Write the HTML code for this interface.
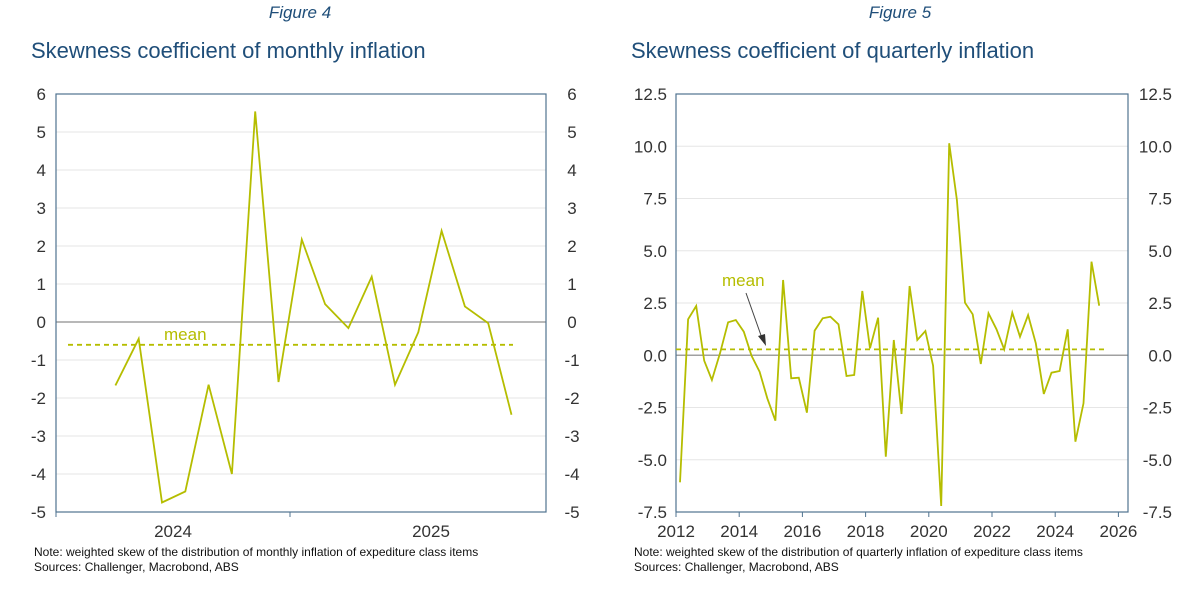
<!DOCTYPE html>
<html><head><meta charset="utf-8"><style>
body{margin:0;background:#fff;width:1200px;height:600px;overflow:hidden}
svg{display:block;font-family:"Liberation Sans",sans-serif}
</style></head><body>
<svg id="s" width="1200" height="600" xmlns="http://www.w3.org/2000/svg">
<text x="300" y="18" text-anchor="middle" font-style="italic" font-size="17" fill="#1f4e79">Figure 4</text>
<text x="900" y="18" text-anchor="middle" font-style="italic" font-size="17" fill="#1f4e79">Figure 5</text>
<text x="31" y="58" font-size="22" fill="#1f4e79">Skewness coefficient of monthly inflation</text>
<text x="631" y="58" font-size="22" fill="#1f4e79">Skewness coefficient of quarterly inflation</text>
<g id="L"></g><g id="R"></g>
<text x="34" y="556" font-size="12" fill="#111">Note: weighted skew of the distribution of monthly inflation of expediture class items</text>
<text x="34" y="571" font-size="12" fill="#111">Sources: Challenger, Macrobond, ABS</text>
<text x="634" y="556" font-size="12" fill="#111">Note: weighted skew of the distribution of quarterly inflation of expediture class items</text>
<text x="634" y="571" font-size="12" fill="#111">Sources: Challenger, Macrobond, ABS</text>
</svg>
<script>
const NS="http://www.w3.org/2000/svg";
function el(p,t,a,txt){const e=document.createElementNS(NS,t);for(const k in a)e.setAttribute(k,a[k]);if(txt!=null)e.textContent=txt;p.appendChild(e);return e;}
const G="#b5bd00",B="#4f7390",T="#333";
// Left
(function(){
const g=document.getElementById("L");const x0=56,x1=546,top=94,bot=512;
const y=v=>top+(6-v)*(bot-top)/11;
for(let v=-5;v<=6;v++){
 if(v!==0&&v!==6&&v!==-5)el(g,"line",{x1:x0,x2:x1,y1:y(v),y2:y(v),stroke:"#e6e6e6","stroke-width":1});
 el(g,"text",{x:x0-10,y:y(v)+6,"text-anchor":"end","font-size":17,fill:T},v);
 el(g,"text",{x:x1+26,y:y(v)+6,"text-anchor":"middle","font-size":17,fill:T},v);
}
el(g,"line",{x1:x0,x2:x1,y1:y(0),y2:y(0),stroke:"#a0a0a0","stroke-width":1.5});
el(g,"rect",{x:x0,y:top,width:x1-x0,height:bot-top,fill:"none",stroke:B,"stroke-width":1.2});
el(g,"line",{x1:x0,x2:x0,y1:bot,y2:bot+5,stroke:B});
el(g,"line",{x1:290,x2:290,y1:bot,y2:bot+5,stroke:B});
el(g,"text",{x:173,y:537,"text-anchor":"middle","font-size":17,fill:T},"2024");
el(g,"text",{x:431,y:537,"text-anchor":"middle","font-size":17,fill:T},"2025");
el(g,"line",{x1:68,x2:513,y1:y(-0.6),y2:y(-0.6),stroke:G,"stroke-width":1.8,"stroke-dasharray":"5,4"});
el(g,"text",{x:164,y:340,"font-size":17,fill:G},"mean");
const v=[-1.67,-0.44,-4.75,-4.46,-1.65,-4.0,5.54,-1.58,2.17,0.47,-0.16,1.19,-1.65,-0.27,2.4,0.41,-0.03,-2.44];
el(g,"polyline",{points:v.map((d,i)=>(115.4+i*23.3)+","+y(d)).join(" "),fill:"none",stroke:G,"stroke-width":1.8});
})();
// Right
(function(){
const g=document.getElementById("R");const x0=676,x1=1128,top=94,bot=512;
const y=v=>top+(12.5-v)*(bot-top)/20;
for(let v=-7.5;v<=12.5;v+=2.5){
 if(v!==0&&v!==12.5&&v!==-7.5)el(g,"line",{x1:x0,x2:x1,y1:y(v),y2:y(v),stroke:"#e6e6e6","stroke-width":1});
 el(g,"text",{x:x0-9,y:y(v)+6,"text-anchor":"end","font-size":17,fill:T},v.toFixed(1));
 el(g,"text",{x:1172,y:y(v)+6,"text-anchor":"end","font-size":17,fill:T},v.toFixed(1));
}
el(g,"line",{x1:x0,x2:x1,y1:y(0),y2:y(0),stroke:"#a0a0a0","stroke-width":1.5});
el(g,"rect",{x:x0,y:top,width:x1-x0,height:bot-top,fill:"none",stroke:B,"stroke-width":1.2});
for(let k=0;k<=7;k++){const xx=676+k*63.2;el(g,"line",{x1:xx,x2:xx,y1:bot,y2:bot+5,stroke:B});
 el(g,"text",{x:xx,y:537,"text-anchor":"middle","font-size":17,fill:T},2012+2*k);}
el(g,"line",{x1:676,x2:1108,y1:y(0.28),y2:y(0.28),stroke:G,"stroke-width":1.8,"stroke-dasharray":"5,4"});
el(g,"text",{x:722,y:286,"font-size":17,fill:G},"mean");
el(g,"line",{x1:746,y1:293,x2:763,y2:341,stroke:"#444","stroke-width":1});
el(g,"path",{d:"M766,346 L758,336 L765,334 Z",fill:"#333"});
const pts=[[208,1207],[229,718],[250,678],[271,842],[291,900],[312,820],[333,727],[353,720],[374,755],[394,827],[415,875],[435,955],[456,1022],[476,600],[497,895],[517,893],[538,998],[558,752],[579,715],[599,710],[620,733],[641,888],[661,885],[682,633],[702,805],[723,713],[743,1130],[764,780],[784,1002],[805,618],[825,780],[846,753],[866,857],[887,1278],[908,190],[928,360],[949,668],[969,703],[990,852],[1010,700],[1031,748],[1051,808],[1072,698],[1092,770],[1113,705],[1133,790],[1154,942],[1174,878],[1195,873],[1216,748],[1236,1085],[1257,970],[1278,545],[1298,677]];
el(g,"polyline",{points:pts.map(p=>(600+p[0]/2.6).toFixed(1)+","+(80+p[1]/3).toFixed(1)).join(" "),fill:"none",stroke:G,"stroke-width":1.8});
})();
</script>
</body></html>
